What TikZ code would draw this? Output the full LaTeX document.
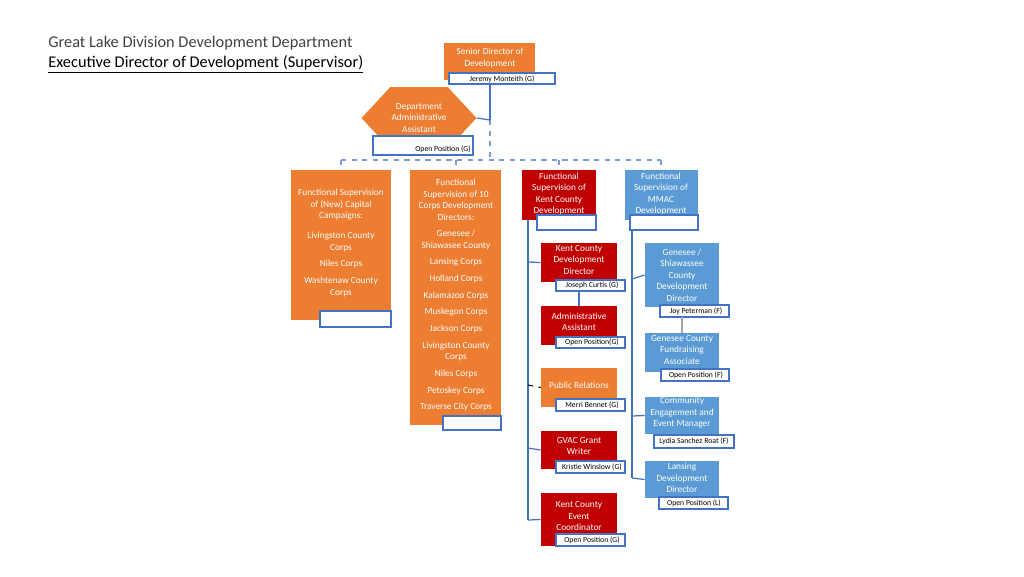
\documentclass[tikz,border=0pt]{standalone}
\usepackage{fontspec}
\setmainfont{Carlito}
\usetikzlibrary{shapes.geometric}
\definecolor{org}{HTML}{ED7D31}
\definecolor{kred}{HTML}{C00000}
\definecolor{mblue}{HTML}{5B9BD5}
\definecolor{lblue}{HTML}{4472C4}
\newcommand\bx[6]{\node[#6, minimum width={(#4-#2)*0.02cm}, minimum height={(#5-#3)*0.02cm}] (#1) at ({(#2+#4)/2},{(#3+#5)/2}) {};}
\tikzset{
  o/.style={fill=org, draw=none, inner sep=0},
  r/.style={fill=kred, draw=none, inner sep=0},
  b/.style={fill=mblue, draw=none, inner sep=0},
  nm/.style={fill=white, draw=lblue, line width=0.6pt, inner sep=0},
  wt/.style={text=white, align=center, font=\fontsize{5.3}{6.5}\selectfont, inner sep=0},
  nt/.style={text=black, font=\fontsize{4.4}{5}\selectfont, inner sep=0},
  ln/.style={draw=lblue, line width=0.7pt},
  dl/.style={draw=lblue!70, line width=0.7pt, dashed}
}
\begin{document}
\begin{tikzpicture}[x=0.02cm,y=-0.02cm]
\useasboundingbox (0,0) rectangle (1024,576);
\node[anchor=base west, font=\fontsize{9.3}{11}\selectfont, text=black!75, inner sep=0] (t1) at (48,47) {Great Lake Division Development Department};
\node[anchor=base west, font=\fontsize{9.3}{11}\selectfont, inner sep=0] (t2) at (48,67) {\underline{Executive Director of Development (Supervisor)}};
% connectors
\coordinate (j1) at (490,120);
\coordinate (j2) at (490,160);
\coordinate (h1) at (341,160);
\coordinate (h2) at (661,160);
\draw[ln] (490,84) -- (j1);
\draw[dl] (j1) -- (j2);
\draw[dl] (h1) -- (h2);
\draw[dl] (h1) -- (341,170);
\draw[dl] (456,160) -- (456,170);
\draw[dl] (559,160) -- (559,170);
\draw[dl] (661,160) -- (661,170);
\draw[ln] (528,220) -- (528,520);
\draw[ln] (632,230) -- (632,478);
% senior
\bx{sd}{444}{43}{535}{80}{o}
\node[wt] at (490,58) {Senior Director of\\Development};
\bx{sdn}{449}{73}{555}{84}{nm}
\node[nt] at (502,79) {Jeremy Monteith (G)};
% hexagon
\node[regular polygon, regular polygon sides=6, shape border rotate=0, fill=org, minimum width=2.3cm, minimum height=0.9cm, inner sep=0, xscale=1.0, yscale=0.62] (hx) at (419,118) {};
\node[wt] at (419,118) {Department\\Administrative\\Assistant};
\draw[ln] (hx.east) -- (j1);
\bx{hxn}{373}{136}{473}{155}{nm}
\node[nt] at (443,149) {Open Position (G)};
% col1
\bx{c1}{291}{170}{391}{320}{o}
\node[wt, anchor=north] at (341,189) {Functional Supervision\\of (New) Capital\\Campaigns:\\[5pt]Livingston County\\Corps\\[3pt]Niles Corps\\[3pt]Washtenaw County\\Corps};
\bx{c1n}{320}{311}{391}{327}{nm}
% col2
\bx{c2}{410}{170}{501}{425}{o}
\node[wt, anchor=north] at (456,179) {Functional\\Supervision of 10\\Corps Development\\Directors:\\[3pt]Genesee /\\Shiawasee County\\[3pt]Lansing Corps\\[3pt]Holland Corps\\[3pt]Kalamazoo Corps\\[3pt]Muskegon Corps\\[3pt]Jackson Corps\\[3pt]Livingston County\\Corps\\[3pt]Niles Corps\\[3pt]Petoskey Corps\\[3pt]Traverse City Corps};
\bx{c2n}{443}{416}{501}{430}{nm}
% col3
\bx{c3}{522}{170}{596}{220}{r}
\node[wt] at (559,194) {Functional\\Supervision of\\Kent County\\Development};
\bx{c3n}{537}{215}{596}{230}{nm}
% col4
\bx{c4}{625}{170}{698}{220}{b}
\node[wt] at (661,194) {Functional\\Supervision of\\MMAC\\Development};
\bx{c4n}{630}{215}{698}{230}{nm}
% red column
\bx{k1}{541}{243}{617}{282}{r}
\node[wt] at (579,260) {Kent County\\Development\\Director};
\draw[ln] (528,262) -- (k1.west);
\draw[ln] (579,291) -- (579,306);
\bx{k1n}{556}{280}{625}{291}{nm}
\node[nt] at (592,285.5) {Joseph Curtis (G)};
\bx{k2}{541}{306}{617}{345}{r}
\node[wt] at (579,322) {Administrative\\Assistant};
\bx{k2n}{556}{337}{625}{348}{nm}
\node[nt] at (592,342.5) {Open Position(G)};
\bx{k3}{541}{368}{617}{407}{o}
\node[wt] at (579,385) {Public Relations};
\draw[dashed, line width=0.6pt] (528,385) -- (k3.west);
\bx{k3n}{556}{399}{625}{411}{nm}
\node[nt] at (592,405) {Merri Bennet (G)};
\bx{k4}{541}{431}{617}{469}{r}
\node[wt] at (579,446) {GVAC Grant\\Writer};
\draw[ln] (528,448) -- (k4.west);
\bx{k4n}{556}{461}{625}{473}{nm}
\node[nt] at (592,467) {Kristie Winslow (G)};
\bx{k5}{541}{493}{617}{546}{r}
\node[wt] at (579,516) {Kent County\\Event\\Coordinator};
\draw[ln] (528,520) -- (k5.west);
\bx{k5n}{556}{534}{625}{546}{nm}
\node[nt] at (592,540) {Open Position (G)};
% blue column
\bx{m1}{645}{243}{719}{307}{b}
\node[wt] at (682,275) {Genesee /\\Shiawassee\\County\\Development\\Director};
\draw[ln] (632,279) -- (m1.west);
\bx{m1n}{660}{305}{729}{317}{nm}
\node[nt] at (696,311) {Joy Peterman (F)};
\draw[draw=gray!70, line width=0.8pt] (682,317) -- (682,333);
\bx{m2}{645}{333}{719}{372}{b}
\node[wt] at (682,350) {Genesee County\\Fundraising\\Associate};
\bx{m2n}{661}{369}{729}{381}{nm}
\node[nt] at (696,375) {Open Position (F)};
\bx{m3}{645}{397}{719}{434}{b}
\node[wt] at (682,413) {Community\\Engagement and\\Event Manager};
\draw[ln] (632,416) -- (m3.west);
\bx{m3n}{654}{435}{734}{448}{nm}
\node[nt] at (694,441.5) {Lydia Sanchez Roat (F)};
\bx{m4}{645}{461}{719}{498}{b}
\node[wt] at (682,478) {Lansing\\Development\\Director};
\draw[ln] (632,478) -- (m4.west);
\bx{m4n}{659}{497}{728}{509}{nm}
\node[nt] at (694,503) {Open Position (L)};
\end{tikzpicture}
\end{document}
